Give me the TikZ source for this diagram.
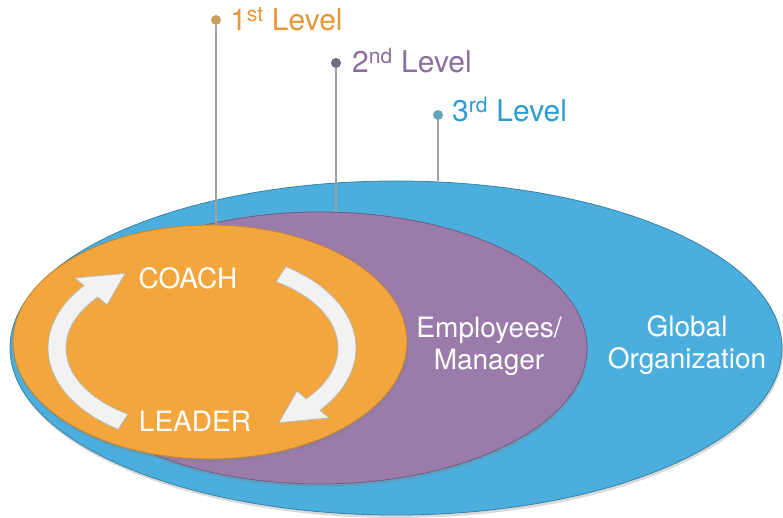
\documentclass[tikz,border=0pt]{standalone}
\usepackage{fontspec}
\setmainfont{TeX Gyre Heros}
\usetikzlibrary{calc,shapes.geometric,shadows}

\definecolor{globeblue}{HTML}{4BAEDC}
\definecolor{staffpurple}{HTML}{9B7BAA}
\definecolor{coreorange}{HTML}{F2A63D}
\definecolor{levone}{HTML}{E9963A}
\definecolor{levtwo}{HTML}{8C6D9E}
\definecolor{levthree}{HTML}{2C9DD1}
\definecolor{pinone}{HTML}{C9A062}
\definecolor{pintwo}{HTML}{6E6E7C}
\definecolor{pinthree}{HTML}{5FA7B8}
\definecolor{stemgray}{HTML}{A0A0A0}

\tikzset{
  ring/.style={ellipse, inner sep=0pt, line width=0.8pt,
    drop shadow={shadow xshift=1pt, shadow yshift=-3pt, opacity=0.3}},
  word/.style={text=white, font=\fontsize{28}{32}\selectfont, align=center},
  lvl/.style={font=\fontsize{30}{34}\selectfont, anchor=base west, inner sep=0pt},
  pin/.style={circle, inner sep=0pt, minimum size=10pt},
  stem/.style={stemgray, line width=1.6pt},
  turn/.style={fill=gray!10, draw=gray!55, line width=0.8pt},
}

% curved arrow on the ellipse round (cyc): tail angle, head base angle, tip angle
\newcommand{\turnarrow}[3]{%
  \filldraw[turn] ($(cyc)+(#1:154 and 97)$)
    arc[start angle=#1, end angle=#2, x radius=154, y radius=97]
    -- ($(cyc)+(#2:166 and 109)$)
    -- ($(cyc)+(#3:145 and 88)$)
    -- ($(cyc)+(#2:124 and 67)$)
    -- ($(cyc)+(#2:136 and 79)$)
    arc[start angle=#2, end angle=#1, x radius=136, y radius=79]
    -- cycle;}

\begin{document}
\begin{tikzpicture}[x=1pt, y=1pt]
  \useasboundingbox (0,0) rectangle (783,518);

  \node[ring, fill=globeblue, draw=globeblue!75!black,
    minimum width=772pt, minimum height=334pt] (globe) at (396,170) {};
  \node[ring, fill=staffpurple, draw=staffpurple!75!black,
    minimum width=534pt, minimum height=272pt] (staff) at (320,170) {};
  \node[ring, fill=coreorange, draw=coreorange!80!black,
    minimum width=394pt, minimum height=234pt] (core) at (210,176) {};

  \coordinate (cyc) at (202,170);
  \turnarrow{237}{140}{122}
  \turnarrow{57}{-40}{-58}

  \node[word] (coach) at (188,240) {COACH};
  \node[word] (leader) at (195,97) {LEADER};
  \node[word] (staffname) at (489,172) {Employees/\\Manager};
  \node[word] (globename) at (687,173) {Global\\Organization};

  \node[pin, fill=pinone] (dotone) at (216,498) {};
  \node[pin, fill=pintwo] (dottwo) at (336,455) {};
  \node[pin, fill=pinthree] (dotthree) at (438,403) {};
  \draw[stem] (dotone) -- (dotone |- core.north);
  \draw[stem] (dottwo) -- (dottwo |- staff.north);
  \draw[stem] (dotthree) -- (dotthree |- globe.north);

  \node[lvl, text=levone] (one) at (230,487) {1\textsuperscript{st} Level};
  \node[lvl, text=levtwo] (two) at (352,445) {2\textsuperscript{nd} Level};
  \node[lvl, text=levthree] (three) at (452,396) {3\textsuperscript{rd} Level};
\end{tikzpicture}
\end{document}
